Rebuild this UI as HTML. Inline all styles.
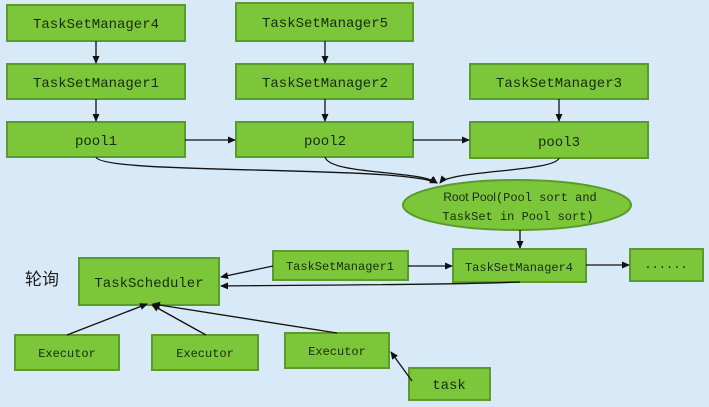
<!DOCTYPE html>
<html><head><meta charset="utf-8"><style>
body{margin:0;width:709px;height:402px;background:#d8eaf8;overflow:hidden;font-family:"Liberation Mono",monospace}
</style></head><body>
<svg width="709" height="402" xmlns="http://www.w3.org/2000/svg">
<defs><marker id="a" markerWidth="8" markerHeight="8" refX="7" refY="4" orient="auto" markerUnits="userSpaceOnUse"><path d="M0,0.5 L8,4 L0,7.5z" fill="#111"/></marker></defs>
<g fill="#7cc63a" stroke="#5b9b2e" stroke-width="2">
<rect x="7" y="5" width="178" height="36"/><rect x="7" y="64" width="178" height="35"/><rect x="7" y="122" width="178" height="35"/>
<rect x="236" y="3" width="177" height="38"/><rect x="236" y="64" width="177" height="35"/><rect x="236" y="122" width="177" height="35"/>
<rect x="470" y="64" width="178" height="35"/><rect x="470" y="122" width="178" height="36"/>
<ellipse cx="517" cy="205" rx="114" ry="25"/>
<rect x="273" y="251" width="135" height="29"/><rect x="453" y="249" width="133" height="33"/><rect x="630" y="249" width="73" height="32"/>
<rect x="79" y="258" width="140" height="47"/>
<rect x="15" y="335" width="104" height="35"/><rect x="152" y="335" width="106" height="35"/><rect x="285" y="333" width="104" height="35"/>
<rect x="409" y="368" width="81" height="32"/>
</g>
<g stroke="#111" stroke-width="1.3" fill="none" marker-end="url(#a)">
<line x1="96" y1="41" x2="96" y2="63"/><line x1="96" y1="99" x2="96" y2="121"/>
<line x1="325" y1="41" x2="325" y2="63"/><line x1="325" y1="99" x2="325" y2="121"/>
<line x1="559" y1="99" x2="559" y2="121"/>
<line x1="185" y1="140" x2="235" y2="140"/><line x1="413" y1="140" x2="469" y2="140"/>
<path d="M96,157 C100,175 400,165 437,183"/>
<path d="M325,157 C330,175 420,170 437,183"/>
<path d="M559,158 C555,172 450,170 440,183"/>
<line x1="520" y1="230" x2="520" y2="248"/>
<line x1="408" y1="266" x2="452" y2="266"/><line x1="586" y1="265" x2="629" y2="265"/>
<line x1="273" y1="266" x2="221" y2="277"/>
<path d="M520,282 C450,285 300,285 221,286"/>
<line x1="67" y1="335" x2="147" y2="304"/><line x1="206" y1="335" x2="152" y2="305"/>
<line x1="337" y1="333" x2="153" y2="304"/>
<line x1="412" y1="381" x2="391" y2="352"/>
</g>
<g font-family="Liberation Mono,monospace" font-size="14" fill="#1a2a10" text-anchor="middle">
<text x="96" y="28">TaskSetManager4</text><text x="96" y="87">TaskSetManager1</text><text x="96" y="145">pool1</text>
<text x="325" y="27">TaskSetManager5</text><text x="325" y="87">TaskSetManager2</text><text x="325" y="145">pool2</text>
<text x="559" y="87">TaskSetManager3</text><text x="559" y="146">pool3</text>
<text x="149" y="287">TaskScheduler</text>
<text x="449" y="389">task</text>
<g font-size="12"><text x="340" y="270">TaskSetManager1</text><text x="519" y="271">TaskSetManager4</text>
<text x="67" y="357">Executor</text><text x="205" y="357">Executor</text><text x="337" y="355">Executor</text>
<text x="666" y="268">......</text>
<text x="520" y="201"><tspan font-family="Liberation Sans,sans-serif">Root Pool</tspan>(Pool sort and</text>
<text x="518" y="220">TaskSet in Pool sort)</text></g>
</g>
<text x="25" y="285" font-family="Liberation Sans,Noto Sans CJK SC,sans-serif" font-size="17" fill="#222">轮询</text>
</svg>
</body></html>
